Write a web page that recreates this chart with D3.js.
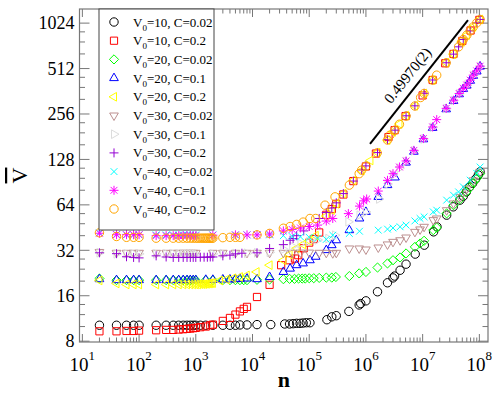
<!DOCTYPE html>
<html>
<head>
<meta charset="utf-8">
<script src="https://cdnjs.cloudflare.com/ajax/libs/d3/7.8.5/d3.min.js"></script>
<style>
    body { margin: 0; background: #fff; }
    #chart { width: 498px; height: 396px; }
    svg text { font-family: "Liberation Serif", "DejaVu Serif", serif; fill: #000; }
</style>
</head>
<body>
<div id="chart"></div>
<script>

/* * * * * * * * * * * * * *
*        data (n, V)         *
* * * * * * * * * * * * * */

// V0=10, C=0.02
let v10c002 = [[20,10.2],[40,10.2],[60,10.2],[80,10.2],[100,10.2],[200,10.2],[300,10.2],[400,10.2],[500,10.2],[600,10.2],
    [700,10.2],[800,10.2],[900,10.2],[1000,10.2],[1200,10.2],[1500,10.2],[2000,10.2],[3000,10.2],[4000,10.2],[5000,10.2],
    [6000,10.25],[8000,10.25],[12000,10.3],[21000,10.3],[37000,10.4],[45000,10.4],[52000,10.45],[60000,10.5],[69000,10.5],
    [78000,10.55],[89000,10.6],[103000,10.6],[2.05e5,11.1],[2.5e5,11.6],[3.0e5,11.8],[5.0e5,12.6],[7.6e5,13.9],[8.1e5,14.2],
    [1.0e6,14.8],[1.6e6,17],[2.4e6,19.5],[3.0e6,21],[3.2e6,21.6],[4.0e6,23.6],[5.1e6,25.9],[7.4e6,30.2],[1.07e7,34.6],
    [1.56e7,42.4],[1.79e7,45.8],[2.65e7,54.7],[3.46e7,62.1],[4.55e7,68.8],[5.2e7,73],[5.9e7,78],[6.7e7,84],[7.6e7,89],
    [8.6e7,95],[9.6e7,101],[1.03e8,106]];

// V0=10, C=0.2
let v10c02 = [[20,9.3],[40,9.3],[60,9.35],[80,9.35],[100,9.4],[200,9.45],[300,9.5],[400,9.5],[500,9.55],[600,9.6],
    [700,9.65],[800,9.7],[900,9.75],[1000,9.8],[1200,9.9],[1500,10.0],[1800,10.2],[2000,10.3],[3000,10.9],[4000,11.4],
    [5000,12.0],[6000,12.6],[7000,13.1],[8000,13.5],[12000,15.7],[20000,18.9],[32000,25.5],[45000,27.5],[56000,28.2],
    [64000,29.7],[80000,33],[1.0e5,36],[1.2e5,38],[1.5e5,42],[2.0e5,55],[2.5e5,60],[3.0e5,65],[4.0e5,75],[6.0e5,92],
    [1.0e6,115],[1.5e6,140],[2.5e6,180],[3.2e6,200],[5.0e6,248],[1.0e7,340],[1.5e7,430],[2.5e7,555],[3.5e7,640],
    [5.0e7,780],[7.0e7,915],[1.0e8,1075]];

// V0=20, C=0.02
let v20c002 = [[20,20.8],[40,20.3],[60,20.3],[80,20.3],[100,20.3],[200,20.3],[300,20.3],[400,20.3],[500,20.3],[600,20.3],
    [700,20.3],[800,20.3],[900,20.3],[1000,20.3],[1500,20.3],[2000,20.3],[3000,20.3],[4000,20.3],[5000,20.3],[6000,20.3],
    [7000,20.3],[8000,20.3],[12000,20.4],[20000,20.5],[35000,20.6],[45000,20.7],[55000,20.7],[65000,20.8],[75000,20.8],
    [85000,20.8],[1.0e5,20.9],[1.2e5,20.9],[1.5e5,21],[2.0e5,21.1],[2.5e5,21.1],[2.95e5,21.3],[5.1e5,21.6],[7.6e5,22.5],
    [1.0e6,23],[1.6e6,24.6],[2.4e6,26.2],[3.0e6,27.5],[4.0e6,28.7],[5.1e6,30.5],[7.3e6,33.7],[9.0e6,35.5],[1.06e7,37],
    [1.54e7,43.5],[1.77e7,45.3],[2.65e7,56.2],[3.5e7,63.7],[4.6e7,70],[5.9e7,78],[6.9e7,84],[7.8e7,90],[9.0e7,96],[1.03e8,103]];

// V0=20, C=0.1
let v20c01 = [[20,20.6],[40,20.3],[60,20.3],[80,20.3],[100,20.3],[200,20.3],[300,20.3],[400,20.3],[500,20.3],[600,20.3],
    [700,20.3],[800,20.3],[900,20.3],[1000,20.3],[1500,20.4],[2000,20.4],[3000,20.5],[4000,20.5],[5000,20.6],[6000,20.7],
    [8000,20.8],[12000,20.6],[20000,21.3],[35000,23],[46000,24.2],[60000,25.5],[78000,26.2],[1.03e5,27.5],[1.3e5,29],
    [2.0e5,32.1],[2.5e5,34.6],[3.0e5,37.3],[5.1e5,43.5],[7.7e5,52],[1.0e6,57.5],[1.65e6,72.3],[2.4e6,86.5],[3.25e6,97.2],
    [5.1e6,122],[7.0e6,144],[1.03e7,174],[1.5e7,207],[2.6e7,275],[3.5e7,312],[4.4e7,346],[5.2e7,375],[6.0e7,395],
    [6.9e7,425],[7.8e7,458],[9.0e7,490],[1.03e8,528]];

// V0=20, C=0.2
let v20c02 = [[20,20.2],[40,19.3],[60,19],[80,19],[100,19],[200,19],[300,19],[400,19],[500,19],[600,19],[700,19],[800,19],
    [900,19],[1000,19],[1100,19],[1200,19.1],[1300,19.1],[1400,19.1],[1500,19.2],[1600,19.2],[1700,19.3],[1800,19.3],
    [1900,19.4],[2000,19.4],[2660,20.2],[3500,20.5],[4570,20.9],[6000,21.3],[7900,21.8],[11800,23],[20000,25.5],
    [35000,27.5],[45000,30],[60000,33],[78000,35],[1.0e5,37],[1.3e5,40],[2.0e5,54],[2.5e5,59],[3.0e5,65],[4.0e5,76],
    [6.0e5,93],[8.4e5,108],[1.2e6,126],[1.6e6,142],[2.4e6,172],[3.0e6,195],[3.9e6,220],[5.1e6,250],[7.3e6,290],
    [1.06e7,350],[1.5e7,430],[2.6e7,560],[3.5e7,638],[4.9e7,770],[6.0e7,852],[7.8e7,967],[1.03e8,1083]];

// V0=30, C=0.02
let v30c002 = [[20,31.2],[40,30.8],[60,30.8],[80,30.8],[100,30.8],[200,30.8],[300,30.8],[400,30.8],[500,30.8],[600,30.8],
    [700,30.8],[800,30.8],[900,30.8],[1000,30.8],[2000,30.8],[3000,30.8],[5000,30.8],[8000,30.8],[12000,30.8],[20000,30.8],
    [35000,30.8],[50000,30.8],[70000,30.9],[1.0e5,30.9],[1.5e5,30.8],[2.0e5,30.8],[2.6e5,30.6],[3.0e5,30.8],[5.1e5,32.9],
    [7.6e5,32.9],[1.0e6,32.4],[1.65e6,33.4],[2.4e6,35],[3.0e6,36.4],[4.0e6,37.3],[5.1e6,38.9],[7.3e6,42.4],[9.0e6,44],
    [1.06e7,45.8],[1.54e7,50.7],[1.77e7,52],[2.65e7,59],[3.5e7,65.4],[4.6e7,72],[6.0e7,82],[7.8e7,93],[1.03e8,106]];

// V0=30, C=0.1
let v30c01 = [[20,30.8],[40,30.3],[60,30.3],[80,30.3],[100,30.3],[200,30.3],[300,30.3],[400,30.3],[500,30.3],[600,30.3],
    [700,30.3],[800,30.3],[900,30.3],[1000,30.3],[2000,30.3],[3000,30.4],[5000,30.5],[8000,30.6],[12000,30.8],[20000,31],
    [35000,32.5],[50000,34],[70000,35.5],[1.0e5,36.5],[1.4e5,37.5],[2.17e5,38.3],[2.85e5,40.3],[4.9e5,49.4],[7.7e5,54.7],
    [1.0e6,57.5],[1.7e6,70],[2.4e6,88],[3.0e6,101],[3.9e6,112],[5.1e6,124],[7.0e6,146],[1.03e7,175],[1.5e7,209],
    [2.6e7,278],[3.5e7,315],[4.4e7,349],[6.0e7,397],[7.8e7,461],[1.03e8,528]];

// V0=30, C=0.2
let v30c02 = [[20,30.8],[40,30.4],[60,29],[80,28.7],[100,28.5],[200,29.4],[300,28.9],[400,28.7],[500,28.7],[600,28.7],
    [700,28.7],[800,28.7],[900,28.7],[1000,28.7],[1200,28.8],[1400,28.8],[1600,28.8],[1800,28.9],[2000,28.9],[3000,29.4],
    [4000,29.7],[5000,30.3],[6500,30.6],[12000,30.8],[20000,32.9],[35000,34.9],[46000,37.3],[52000,38.3],[60000,40],
    [80000,43],[1.0e5,46],[1.5e5,52],[2.0e5,57],[2.5e5,61],[3.0e5,66],[4.0e5,76],[6.0e5,92],[8.4e5,109],[1.0e6,116],
    [1.6e6,142],[2.4e6,173],[3.25e6,200],[5.1e6,249],[7.3e6,290],[1.06e7,351],[1.5e7,430],[2.6e7,559],[3.5e7,638],
    [4.3e7,713],[5.2e7,798],[6.9e7,910],[9.0e7,1028],[1.03e8,1083]];

// V0=40, C=0.02
let v40c002 = [[20,41.8],[40,40.8],[60,40.5],[80,40.5],[100,40.5],[200,40.5],[300,40.5],[400,40.5],[500,40.5],[600,40.5],
    [700,40.5],[800,40.5],[900,40.5],[1000,40.5],[2000,40.5],[5000,40.5],[8000,40.5],[12000,40.5],[20000,40.5],[35000,40],
    [50000,39.5],[70000,39.3],[1.0e5,39],[1.4e5,38.5],[2.0e5,37.8],[2.6e5,40.3],[5.1e5,41.4],[7.7e5,42.8],[1.65e6,43.5],
    [2.4e6,44.2],[3.0e6,45],[4.0e6,45.8],[5.1e6,47],[7.3e6,50.1],[9.0e6,52],[1.06e7,53.3],[1.54e7,57.5],[1.77e7,59],
    [2.65e7,68.8],[3.5e7,74.2],[4.3e7,78],[5.2e7,84.3],[6.9e7,93.3],[9.0e7,103.5],[1.03e8,114]];

// V0=40, C=0.1
let v40c01 = [[20,41.5],[40,40.6],[60,40.6],[80,40.6],[100,40.6],[200,40],[300,40],[400,40],[500,40],[600,40],[700,40],
    [800,40],[900,40],[1000,40],[2000,40.3],[5000,40.5],[8000,40.5],[12000,40.5],[20000,41],[35000,43],[50000,44],
    [70000,45],[1.0e5,46],[1.4e5,47],[2.0e5,50],[2.6e5,52],[4.9e5,56],[7.7e5,62.8],[9.1e5,68],[1.03e6,70],[1.65e6,79],
    [2.4e6,93],[3.0e6,103],[3.9e6,114],[5.1e6,125],[7.0e6,147],[1.03e7,176],[1.5e7,210],[1.77e7,235],[2.6e7,279],
    [3.5e7,316],[4.4e7,350],[5.2e7,378],[6.0e7,398],[6.9e7,429],[7.8e7,463],[9.0e7,494],[1.03e8,531]];

// V0=40, C=0.2
let v40c02 = [[20,41.8],[40,39.5],[60,39],[80,39],[100,39],[200,38.5],[300,38.5],[400,38.5],[500,38.5],[600,38.5],
    [700,38.5],[800,38.5],[900,38.5],[1000,38.5],[1100,38.5],[1200,38.5],[1300,38.5],[1400,38.5],[1500,38.5],[1600,38.5],
    [1700,38.5],[1800,38.5],[1900,38.5],[2000,38.5],[3000,38.8],[4000,39],[5000,39],[6000,39],[12000,40.5],[20000,41.4],
    [35000,44.8],[46000,46],[60000,47.5],[78000,49.2],[1.03e5,52],[1.3e5,52],[1.9e5,63.7],[2.85e5,72.3],[5.1e5,86.5],
    [7.6e5,103],[8.4e5,108.7],[1.0e6,115.5],[1.58e6,141.5],[2.4e6,172],[2.65e6,185],[3.25e6,200],[3.9e6,219],[5.1e6,248],
    [7.3e6,289],[9.2e6,329],[1.06e7,350],[1.5e7,429],[1.77e7,463],[2.6e7,559],[3.5e7,638],[4.3e7,713],[4.9e7,770],
    [5.2e7,798],[6.0e7,852],[6.9e7,910],[7.8e7,967],[9.0e7,1028],[1.03e8,1083]];

let legendV0 = [10, 10, 20, 20, 20, 30, 30, 30, 40, 40, 40];
let legendC = ['0.02', '0.2', '0.02', '0.1', '0.2', '0.02', '0.1', '0.2', '0.02', '0.1', '0.2'];

let xTickValues = [1e1, 1e2, 1e3, 1e4, 1e5, 1e6, 1e7, 1e8];
let xTickExponents = [1, 2, 3, 4, 5, 6, 7, 8];
let yTickValues = [8, 16, 32, 64, 128, 256, 512, 1024];

// guide line with fitted exponent
let slopeLine = [[1.18e6, 162], [6.3e7, 1073]];
let slopeLabel = '0.49970(2)';


/* * * * * * * * * * * * * *
*          ScalingVis        *
* * * * * * * * * * * * * */

class ScalingVis {

    constructor(parentElement, series) {
        this.parentElement = parentElement;
        this.series = series;
        this.initVis();
    }

    initVis() {
        let vis = this;

        vis.width = 498;
        vis.height = 396;
        vis.frame = {left: 79.5, right: 488, top: 9, bottom: 342};

        vis.svg = d3.select('#' + vis.parentElement).append('svg')
            .attr('width', vis.width)
            .attr('height', vis.height)
            .style('font-family', '"Liberation Serif", "DejaVu Serif", serif');

        vis.xScale = d3.scaleLog()
            .domain([8.9, 1.42e8])
            .range([vis.frame.left, vis.frame.right]);

        vis.yScale = d3.scaleLog().base(2)
            .domain([7.9, 1270])
            .range([vis.frame.bottom, vis.frame.top]);

        vis.styles = [
            {shape: 'circle', color: '#000000'},
            {shape: 'square', color: '#ff0000'},
            {shape: 'diamond', color: '#00ff00'},
            {shape: 'triUp', color: '#0000ff'},
            {shape: 'triLeft', color: '#ffff00'},
            {shape: 'triDown', color: '#bc8f8f'},
            {shape: 'triRight', color: '#dcdcdc'},
            {shape: 'plus', color: '#9400d3'},
            {shape: 'cross', color: '#00ffff'},
            {shape: 'star', color: '#ff00ff'},
            {shape: 'circle', color: '#ffa500'}
        ];

        vis.drawAxes();
        vis.drawPoints();
        vis.drawSlope();
        vis.drawLegend();
    }

    symbolPath(shape) {
        let r = 4.2, a = 3.6, b = 4.6, t = 5, p = 4.5, q = 3.4;
        let c = 0.866 * t, h = 0.5 * t;
        switch (shape) {
            case 'circle': return `M${r},0A${r},${r} 0 1,1 ${-r},0A${r},${r} 0 1,1 ${r},0Z`;
            case 'square': return `M${-a},${-a}H${a}V${a}H${-a}Z`;
            case 'diamond': return `M0,${-b}L${b},0L0,${b}L${-b},0Z`;
            case 'triUp': return `M0,${-t}L${c},${h}L${-c},${h}Z`;
            case 'triDown': return `M0,${t}L${c},${-h}L${-c},${-h}Z`;
            case 'triLeft': return `M${-t},0L${h},${-c}L${h},${c}Z`;
            case 'triRight': return `M${t},0L${-h},${-c}L${-h},${c}Z`;
            case 'plus': return `M${-p},0H${p}M0,${-p}V${p}`;
            case 'cross': return `M${-q},${-q}L${q},${q}M${-q},${q}L${q},${-q}`;
            case 'star': return `M${-p},0H${p}M0,${-p}V${p}M${-q},${-q}L${q},${q}M${-q},${q}L${q},${-q}`;
        }
    }

    drawAxes() {
        let vis = this;
        let f = vis.frame;
        let axisColor = '#777';

        vis.svg.append('rect')
            .attr('x', f.left).attr('y', f.top)
            .attr('width', f.right - f.left).attr('height', f.bottom - f.top)
            .attr('fill', 'none').attr('stroke', axisColor).attr('stroke-width', 1.2);

        // x ticks (inward, bottom and top)
        let xMinor = [];
        xTickValues.forEach(v => { for (let k = 2; k <= 9; k++) xMinor.push(v * k); });
        xMinor = xMinor.filter(v => v < vis.xScale.domain()[1]);

        let xt = vis.svg.append('g').attr('stroke', axisColor).attr('stroke-width', 1);
        xTickValues.forEach(v => {
            let x = vis.xScale(v);
            xt.append('line').attr('x1', x).attr('x2', x).attr('y1', f.bottom).attr('y2', f.bottom - 8);
            xt.append('line').attr('x1', x).attr('x2', x).attr('y1', f.top).attr('y2', f.top + 8);
        });
        xMinor.forEach(v => {
            let x = vis.xScale(v);
            xt.append('line').attr('x1', x).attr('x2', x).attr('y1', f.bottom).attr('y2', f.bottom - 4.5);
            xt.append('line').attr('x1', x).attr('x2', x).attr('y1', f.top).attr('y2', f.top + 4.5);
        });

        // y ticks (inward, left and right)
        let yMinor = [];
        [4].concat(yTickValues).forEach(v => { [1.25, 1.5, 1.75].forEach(k => yMinor.push(v * k)); });
        yMinor = yMinor.filter(v => v > vis.yScale.domain()[0] && v < vis.yScale.domain()[1]);

        let yt = vis.svg.append('g').attr('stroke', axisColor).attr('stroke-width', 1);
        yTickValues.forEach(v => {
            let y = vis.yScale(v);
            yt.append('line').attr('x1', f.left).attr('x2', f.left + 10).attr('y1', y).attr('y2', y);
            yt.append('line').attr('x1', f.right).attr('x2', f.right - 10).attr('y1', y).attr('y2', y);
        });
        yMinor.forEach(v => {
            let y = vis.yScale(v);
            yt.append('line').attr('x1', f.left).attr('x2', f.left + 5.5).attr('y1', y).attr('y2', y);
            yt.append('line').attr('x1', f.right).attr('x2', f.right - 5.5).attr('y1', y).attr('y2', y);
        });

        // tick labels
        vis.svg.append('g').selectAll('text')
            .data(yTickValues)
            .enter().append('text')
            .attr('x', f.left - 5)
            .attr('y', d => vis.yScale(d))
            .attr('dy', '0.35em')
            .attr('text-anchor', 'end')
            .style('font-size', '18px')
            .text(d => d);

        let xl = vis.svg.append('g').selectAll('text')
            .data(xTickValues)
            .enter().append('text')
            .attr('x', d => vis.xScale(d))
            .attr('y', 371)
            .attr('text-anchor', 'middle')
            .style('font-size', '19px');
        xl.append('tspan').text('10');
        xl.append('tspan')
            .attr('dy', -11)
            .style('font-size', '13px')
            .text((d, i) => xTickExponents[i]);

        // axis titles
        vis.svg.append('text')
            .attr('x', (f.left + f.right) / 2)
            .attr('y', 387)
            .attr('text-anchor', 'middle')
            .style('font-size', '22px')
            .style('font-weight', 'bold')
            .text('n');

        vis.svg.append('text')
            .attr('transform', `translate(27, ${(f.top + f.bottom) / 2}) rotate(-90)`)
            .attr('text-anchor', 'middle')
            .style('font-size', '22px')
            .style('text-decoration', 'overline')
            .text('V');
    }

    drawPoints() {
        let vis = this;
        vis.series.forEach((s, i) => {
            let st = vis.styles[i];
            vis.svg.append('g')
                .selectAll('path')
                .data(s)
                .enter().append('path')
                .attr('d', vis.symbolPath(st.shape))
                .attr('transform', d => `translate(${vis.xScale(d[0])},${vis.yScale(d[1])})`)
                .attr('fill', 'none')
                .attr('stroke', st.color)
                .attr('stroke-width', 1);
        });
    }

    drawSlope() {
        let vis = this;
        let p0 = [vis.xScale(slopeLine[0][0]), vis.yScale(slopeLine[0][1])];
        let p1 = [vis.xScale(slopeLine[1][0]), vis.yScale(slopeLine[1][1])];

        vis.svg.append('line')
            .attr('x1', p0[0]).attr('y1', p0[1])
            .attr('x2', p1[0]).attr('y2', p1[1])
            .attr('stroke', '#000').attr('stroke-width', 2);

        // label sits just above the line, a little below its midpoint
        let angle = Math.atan2(p1[1] - p0[1], p1[0] - p0[0]) * 180 / Math.PI;
        let mx = (p0[0] + p1[0]) / 2, my = (p0[1] + p1[1]) / 2;
        vis.svg.append('text')
            .attr('transform', `translate(${mx},${my}) rotate(${angle}) translate(-2,-8)`)
            .attr('text-anchor', 'middle')
            .style('font-size', '15px')
            .text(slopeLabel);
    }

    drawLegend() {
        let vis = this;
        let lg = vis.svg.append('g');

        lg.append('rect')
            .attr('x', 99).attr('y', 9)
            .attr('width', 115).attr('height', 221)
            .attr('fill', '#fff').attr('stroke', '#444').attr('stroke-width', 1);

        legendV0.forEach((v0, i) => {
            let y = 22 + i * 18.7;
            let st = vis.styles[i];
            lg.append('path')
                .attr('d', vis.symbolPath(st.shape))
                .attr('transform', `translate(114,${y})`)
                .attr('fill', 'none')
                .attr('stroke', st.color)
                .attr('stroke-width', 1);

            let t = lg.append('text')
                .attr('x', 133).attr('y', y + 4.5)
                .style('font-size', '13px');
            t.append('tspan').text('V');
            t.append('tspan').attr('dy', 4).style('font-size', '9px').text('0');
            t.append('tspan').attr('dy', -4).text(`=${v0}, C=${legendC[i]}`);
        });
    }
}

new ScalingVis('chart', [v10c002, v10c02, v20c002, v20c01, v20c02, v30c002, v30c01, v30c02, v40c002, v40c01, v40c02]);

</script>
</body>
</html>
